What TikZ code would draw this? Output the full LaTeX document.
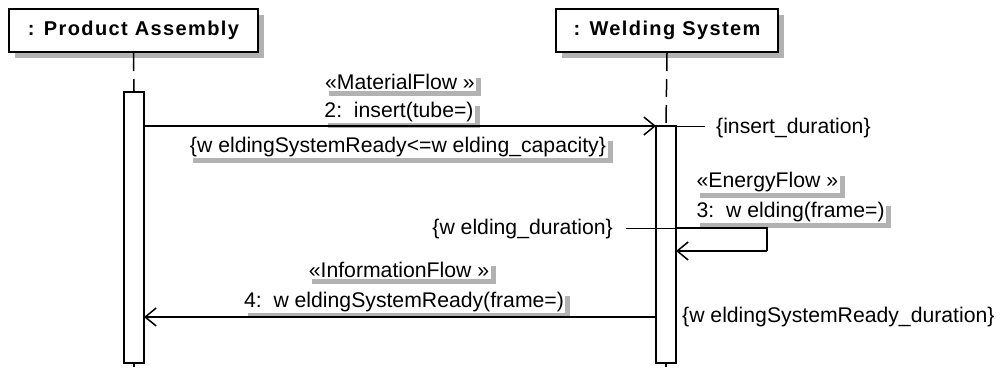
\documentclass[tikz,border=0pt]{standalone}
\usepackage{fontspec}
\setmainfont{Liberation Sans}
\newfontfamily\titlefont[LetterSpace=7]{Liberation Sans}
\usetikzlibrary{arrows.meta,shadows}
\definecolor{shgray}{RGB}{178,178,178}
\begin{document}
\begin{tikzpicture}[x=1pt,y=-1pt,
  every node/.style={font=\fontsize{21.2}{25}\selectfont},
  head/.style={draw, line width=2pt, fill=white, minimum height=43pt, inner sep=0pt,
    font=\titlefont\bfseries\fontsize{20}{24}\selectfont,
    drop shadow={shadow xshift=6pt, shadow yshift=-6pt, fill=shgray, opacity=1}},
  act/.style={draw, line width=2pt, fill=white, minimum width=20pt, inner sep=0pt},
  lbl/.style={fill=white, inner sep=1.5pt,
    drop shadow={shadow xshift=5pt, shadow yshift=-5pt, fill=shgray, opacity=1}},
  plain/.style={inner sep=1pt},
  life/.style={line width=1.5pt, dash pattern=on 18pt off 8pt},
  msg/.style={line width=1.5pt, -{Straight Barb[length=11pt, width=18pt, line width=1.5pt]}},
  dur/.style={line width=1pt}]
\useasboundingbox (0,0) rectangle (1001,367);
% lifeline heads
\node[head, minimum width=249pt] (pa) at (133.5,30.5) {: Product Assembly};
\node[head, minimum width=222pt] (ws) at (667,30.5) {: Welding System};
% activations
\node[act, minimum height=271pt] (paact) at (134,227.5) {};
\node[act, minimum height=237pt] (wsact) at (666,244.5) {};
% lifelines
\coordinate (pabot) at (134,367);
\coordinate (wsbot) at (666,367);
\draw[life] (pa.south) -- (paact.north);
\draw[life] (ws.south) -- (wsact.north);
\draw[line width=2pt] (paact.south) -- (pabot);
\draw[line width=2pt] (wsact.south) -- (wsbot);
% message 2
\coordinate (m2s) at (144,126);
\coordinate (m2e) at (656,126);
\node[lbl] (mf) at (400,82) {«MaterialFlow »};
\node[lbl] (m2) at (399,112) {2:\ \ insert(tube=)};
\node[lbl] (cond) at (398,147) {\{w eldingSystemReady<=w elding\_capacity\}};
\draw[msg] (m2s) -- (m2e);
% insert duration
\coordinate (ind0) at (705,126);
\draw[dur] (m2e) -- (ind0);
\node[plain, anchor=west] (ind) at (715,128) {\{insert\_duration\}};
% self message 3
\node[lbl, anchor=west] (ef) at (695,182) {«EnergyFlow »};
\node[lbl, anchor=west] (m3) at (695,212) {3:\ \ w elding(frame=)};
\coordinate (m3s) at (676,228);
\coordinate (m3a) at (767,228);
\coordinate (m3b) at (767,251);
\coordinate (m3e) at (676,251);
\coordinate (wd0) at (626,228);
\coordinate (wd1) at (702,228);
\draw[dur] (wd0) -- (wd1);
\draw[line width=1.5pt] (m3s) -- (m3a) -- (m3b);
\draw[msg] (m3b) -- (m3e);
\node[plain, anchor=east] (wd) at (614,229) {\{w elding\_duration\}};
% message 4
\node[lbl] (if) at (399,270) {«InformationFlow »};
\node[lbl] (m4) at (404,302) {4:\ \ w eldingSystemReady(frame=)};
\coordinate (m4s) at (656,317);
\coordinate (m4e) at (144,317);
\draw[msg] (m4s) -- (m4e);
\node[plain, anchor=west] (wsd) at (681,317) {\{w eldingSystemReady\_duration\}};
\end{tikzpicture}
\end{document}
